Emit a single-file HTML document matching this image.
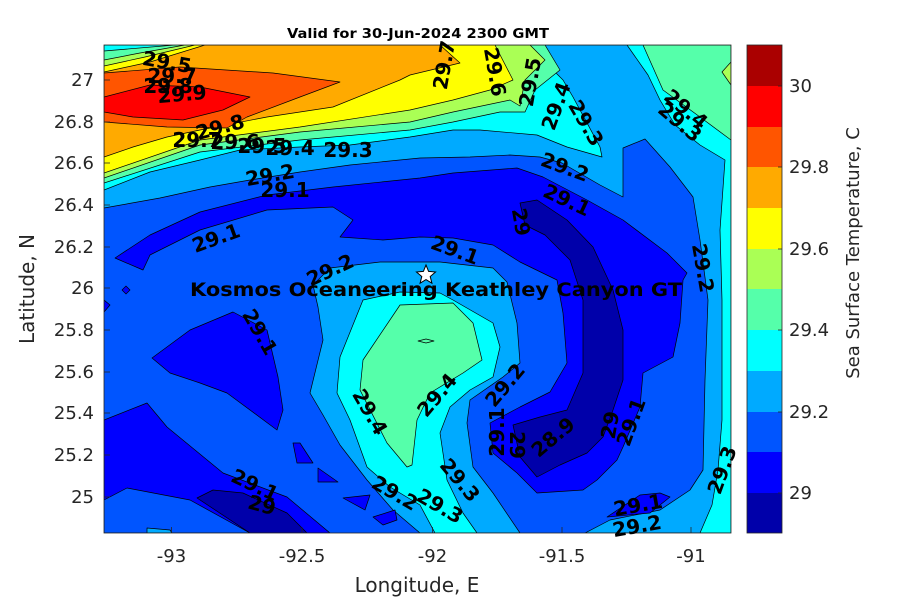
<!DOCTYPE html>
<html><head><meta charset="utf-8"><style>
html,body{margin:0;padding:0;background:#fff;}
svg{display:block;font-family:"DejaVu Sans","Liberation Sans",sans-serif;}
.l{font-family:"DejaVu Sans",sans-serif;font-weight:bold;font-size:20px;fill:#000;text-anchor:middle;dominant-baseline:central;}
.t{font-family:"DejaVu Sans",sans-serif;font-size:18px;fill:#262626;}
</style></head><body>
<svg width="900" height="600" viewBox="0 0 900 600" xmlns="http://www.w3.org/2000/svg">
<defs><clipPath id="c"><rect x="104" y="45" width="627" height="488"/></clipPath></defs>
<g clip-path="url(#c)" stroke="#000" stroke-width="0.7" stroke-linejoin="round">
<rect x="104" y="45" width="627" height="488" fill="#0055ff" stroke="none"/>
<polygon fill="#00aaff" points="104,45 731,45 731,533 585,533 610,520 660,510 690,490 703,470 705,380 708,300 700,240 693,197 670,167 645,139 623,148 623,197 600,185 562,163 540,157 510,155 470,157 420,158 350,165 300,172 250,180 210,187 160,198 104,208"/>
<polygon fill="#00ffff" points="104,45 520,45 540,57 563,80 573,97 600,147 602,157 567,147 537,135 480,130 453,130 410,137 350,145 300,147 240,150 200,160 150,172 104,190"/>
<polygon fill="#55ffaa" points="104,45 515,45 545,45 560,70 535,90 525,112 500,112 453,122 410,130 300,140 200,152 104,183"/>
<polygon fill="#aaff55" points="104,45 530,45 545,60 525,80 520,106 510,100 453,112 410,122 300,132 200,145 104,178"/>
<polygon fill="#ffff00" points="104,45 495,45 513,80 490,90 453,100 410,110 300,127 200,140 104,173"/>
<polygon fill="#ffaa00" points="104,45 440,45 460,63 410,75 400,80 333,107 267,117 200,130 167,137 133,147 104,157"/>
<polygon fill="#ffff00" points="104,45 205,45 150,62 104,72"/>
<polygon fill="#aaff55" points="104,45 195,45 145,57 104,66"/>
<polygon fill="#55ffaa" points="104,45 185,45 140,53 104,60"/>
<polygon fill="#00ffff" points="104,45 175,45 104,51"/>
<polygon fill="#ff5500" points="104,73 180,67 273,73 340,82 300,97 247,117 227,128 167,127 104,122"/>
<polygon fill="#ff0000" points="104,97 150,85 200,87 250,97 223,110 183,120 133,117 104,112"/>
<polygon fill="#00ffff" points="627,45 731,45 731,533 700,533 712,505 718,470 722,420 722,300 720,230 725,160 700,145 675,125 660,100 648,75"/>
<polygon fill="#55ffaa" points="643,45 731,45 731,140 700,117 663,90"/>
<polygon fill="#aaff55" points="731,62 722,72 731,85"/>
<polygon fill="#00aaff" points="313,285 330,268 380,262 440,262 493,268 507,282 517,323 520,363 503,377 470,400 467,423 473,467 493,493 520,533 420,533 393,510 367,480 340,445 323,415 310,393 323,340 318,307"/>
<polygon fill="#00ffff" points="363,300 400,292 440,293 453,300 493,323 500,347 493,377 470,390 450,407 440,433 447,480 463,513 477,533 435,533 420,505 390,487 367,467 350,420 337,393 340,357"/>
<polygon fill="#55ffaa" points="400,305 453,303 473,323 482,360 463,373 430,393 417,420 412,465 407,467 387,443 360,390 363,360"/>
<polygon fill="#0000ff" points="115,258 150,235 200,212 267,195 333,187 420,178 453,173 517,168 543,177 587,200 623,220 667,253 687,273 683,280 680,323 673,357 643,373 640,407 623,447 617,460 597,480 583,490 537,493 517,473 493,453 490,423 520,407 550,392 567,363 563,313 557,280 520,262 493,245 453,238 420,237 383,240 340,237 353,220 333,207 267,210 200,230 150,255 143,270"/>
<polygon fill="#0000aa" points="520,203 537,200 567,220 593,247 613,290 623,330 623,380 613,410 603,437 587,453 560,465 537,477 520,457 513,425 540,417 567,410 583,373 583,300 570,260 545,235 525,225"/>
<polygon fill="#0000ff" points="233,312 267,330 278,377 283,410 277,430 227,393 200,383 170,373 152,358 190,330"/>
<polygon fill="#0000ff" points="104,420 147,403 167,427 223,473 287,497 330,533 104,533"/>
<polygon fill="#0055ff" points="104,500 127,488 190,500 250,533 104,533"/>
<polygon fill="#0000aa" points="197,498 213,490 243,493 287,513 307,533 250,533"/>
<polygon fill="#00aaff" points="147,528 170,530 172,533 147,533"/>
<polygon fill="#0000ff" points="293,443 300,443 313,463 297,463"/>
<polygon fill="#0000ff" points="318,468 338,482 318,482"/>
<polygon fill="#0000ff" points="343,498 370,495 365,510"/>
<polygon fill="#0000ff" points="373,517 395,510 397,520 383,525"/>
<polygon fill="#0000ff" points="104,300 110,305 104,312"/>
<polygon fill="#0000ff" points="122,290 126,286 130,290 126,294"/>
<polygon fill="#0000ff" points="607,517 640,495 660,493 670,497 650,513"/>
<polygon fill="#55ffaa" points="418,341 426,339 434,341 426,343"/>
</g>
<rect x="104" y="45" width="627" height="488" fill="none" stroke="#262626" stroke-width="0.8"/>
<g>
<text x="167" y="62" transform="rotate(10 167 62)" class="l">29.5</text>
<text x="172" y="76" class="l">29.7</text>
<text x="168" y="86" class="l">29.8</text>
<text x="182" y="94" transform="rotate(-5 182 94)" class="l">29.9</text>
<text x="220" y="127" transform="rotate(-15 220 127)" class="l">29.8</text>
<text x="197" y="140" class="l">29.7</text>
<text x="235" y="142" class="l">29.6</text>
<text x="262" y="146" class="l">29.5</text>
<text x="290" y="148" class="l">29.4</text>
<text x="348" y="150" class="l">29.3</text>
<text x="270" y="175" transform="rotate(-10 270 175)" class="l">29.2</text>
<text x="285" y="190" class="l">29.1</text>
<text x="216" y="238" transform="rotate(-20 216 238)" class="l">29.1</text>
<text x="444" y="65" transform="rotate(-80 444 65)" class="l">29.7</text>
<text x="495" y="72" transform="rotate(80 495 72)" class="l">29.6</text>
<text x="530" y="82" transform="rotate(-80 530 82)" class="l">29.5</text>
<text x="556" y="106" transform="rotate(-70 556 106)" class="l">29.4</text>
<text x="586" y="123" transform="rotate(60 586 123)" class="l">29.3</text>
<text x="686" y="109" transform="rotate(40 686 109)" class="l">29.4</text>
<text x="680" y="122" transform="rotate(40 680 122)" class="l">29.3</text>
<text x="565" y="167" transform="rotate(20 565 167)" class="l">29.2</text>
<text x="567" y="200" transform="rotate(25 567 200)" class="l">29.1</text>
<text x="521" y="222" transform="rotate(80 521 222)" class="l">29</text>
<text x="455" y="250" transform="rotate(20 455 250)" class="l">29.1</text>
<text x="330" y="270" transform="rotate(-25 330 270)" class="l">29.2</text>
<text x="703" y="268" transform="rotate(80 703 268)" class="l">29.2</text>
<text x="260" y="332" transform="rotate(60 260 332)" class="l">29.1</text>
<text x="370" y="412" transform="rotate(60 370 412)" class="l">29.4</text>
<text x="437" y="395" transform="rotate(-50 437 395)" class="l">29.4</text>
<text x="505" y="385" transform="rotate(-50 505 385)" class="l">29.2</text>
<text x="497" y="432" transform="rotate(-90 497 432)" class="l">29.1</text>
<text x="517" y="445" transform="rotate(90 517 445)" class="l">29</text>
<text x="553" y="437" transform="rotate(-40 553 437)" class="l">28.9</text>
<text x="610" y="425" transform="rotate(-80 610 425)" class="l">29</text>
<text x="631" y="422" transform="rotate(-70 631 422)" class="l">29.1</text>
<text x="722" y="470" transform="rotate(-70 722 470)" class="l">29.3</text>
<text x="460" y="480" transform="rotate(50 460 480)" class="l">29.3</text>
<text x="440" y="506" transform="rotate(30 440 506)" class="l">29.3</text>
<text x="395" y="493" transform="rotate(30 395 493)" class="l">29.2</text>
<text x="255" y="485" transform="rotate(25 255 485)" class="l">29.1</text>
<text x="262" y="505" transform="rotate(15 262 505)" class="l">29</text>
<text x="638" y="505" transform="rotate(-10 638 505)" class="l">29.1</text>
<text x="637" y="526" transform="rotate(-10 637 526)" class="l">29.2</text>
</g>
<text x="190" y="296" font-weight="bold" font-size="19" textLength="492" lengthAdjust="spacingAndGlyphs">Kosmos Oceaneering Keathley Canyon GT</text>
<polygon points="426,265 428.6,271.4 435.5,272 430.2,276.5 431.9,283.2 426,279.6 420.1,283.2 421.8,276.5 416.5,272 423.4,271.4" fill="#fff" stroke="#000" stroke-width="1"/>
<text x="287" y="38" font-weight="bold" font-size="13" fill="#000" textLength="262" lengthAdjust="spacingAndGlyphs">Valid for 30-Jun-2024 2300 GMT</text>
<g stroke="#262626" stroke-width="0.8">
<line x1="171.5" y1="533" x2="171.5" y2="527"/><line x1="302" y1="533" x2="302" y2="527"/><line x1="432.5" y1="533" x2="432.5" y2="527"/><line x1="562" y1="533" x2="562" y2="527"/><line x1="691" y1="533" x2="691" y2="527"/>
<line x1="104" y1="80" x2="110" y2="80"/><line x1="104" y1="122" x2="110" y2="122"/><line x1="104" y1="163" x2="110" y2="163"/><line x1="104" y1="205" x2="110" y2="205"/><line x1="104" y1="247" x2="110" y2="247"/><line x1="104" y1="288" x2="110" y2="288"/><line x1="104" y1="330" x2="110" y2="330"/><line x1="104" y1="372" x2="110" y2="372"/><line x1="104" y1="413" x2="110" y2="413"/><line x1="104" y1="455" x2="110" y2="455"/><line x1="104" y1="497" x2="110" y2="497"/>
</g>
<g class="t" text-anchor="middle">
<text x="171.5" y="562">-93</text><text x="302" y="562">-92.5</text><text x="432.5" y="562">-92</text><text x="562" y="562">-91.5</text><text x="691" y="562">-91</text>
</g>
<g class="t" text-anchor="end">
<text x="94" y="86">27</text><text x="94" y="128">26.8</text><text x="94" y="169">26.6</text><text x="94" y="211">26.4</text><text x="94" y="253">26.2</text><text x="94" y="294">26</text><text x="94" y="336">25.8</text><text x="94" y="378">25.6</text><text x="94" y="419">25.4</text><text x="94" y="461">25.2</text><text x="94" y="503">25</text>
</g>
<text x="417" y="592" font-size="20" fill="#262626" text-anchor="middle">Longitude, E</text>
<text x="0" y="0" font-size="20" fill="#262626" text-anchor="middle" transform="translate(34 289) rotate(-90)">Latitude, N</text>
<g>
<rect x="747" y="45" width="35" height="41" fill="#aa0000"/>
<rect x="747" y="86" width="35" height="41" fill="#ff0000"/>
<rect x="747" y="127" width="35" height="40" fill="#ff5500"/>
<rect x="747" y="167" width="35" height="41" fill="#ffaa00"/>
<rect x="747" y="208" width="35" height="41" fill="#ffff00"/>
<rect x="747" y="249" width="35" height="40" fill="#aaff55"/>
<rect x="747" y="289" width="35" height="41" fill="#55ffaa"/>
<rect x="747" y="330" width="35" height="41" fill="#00ffff"/>
<rect x="747" y="371" width="35" height="41" fill="#00aaff"/>
<rect x="747" y="412" width="35" height="40" fill="#0055ff"/>
<rect x="747" y="452" width="35" height="41" fill="#0000ff"/>
<rect x="747" y="493" width="35" height="40" fill="#0000aa"/>
<rect x="747" y="45" width="35" height="488" fill="none" stroke="#262626" stroke-width="0.8"/>
<g stroke="#262626" stroke-width="0.8">
<line x1="778" y1="86" x2="782" y2="86"/><line x1="778" y1="167" x2="782" y2="167"/><line x1="778" y1="249" x2="782" y2="249"/><line x1="778" y1="330" x2="782" y2="330"/><line x1="778" y1="412" x2="782" y2="412"/><line x1="778" y1="493" x2="782" y2="493"/>
</g>
<g class="t">
<text x="789" y="92">30</text><text x="789" y="173">29.8</text><text x="789" y="255">29.6</text><text x="789" y="336">29.4</text><text x="789" y="418">29.2</text><text x="789" y="499">29</text>
</g>
<text x="0" y="0" font-size="18" fill="#262626" text-anchor="middle" transform="translate(859 253) rotate(-90)">Sea Surface Temperature, C</text>
</g>
</svg>
</body></html>
